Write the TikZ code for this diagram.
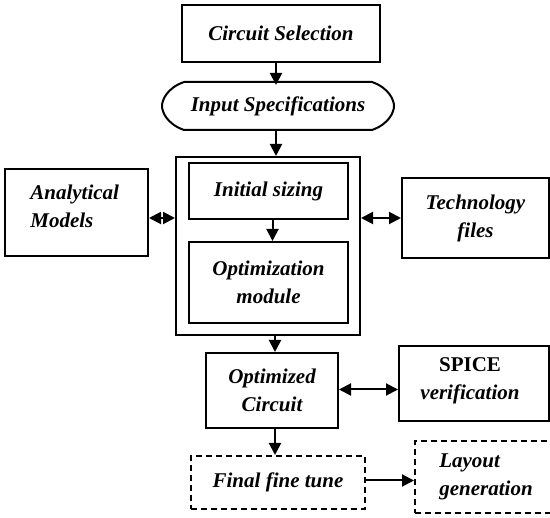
\documentclass[tikz,border=0pt]{standalone}
\usepackage{fontspec}
\setmainfont{Liberation Serif}
\usetikzlibrary{arrows.meta,calc}
\begin{document}
\begin{tikzpicture}[x=1pt,y=-1pt,
  line width=2pt,
  lbl/.style={font=\fontsize{21}{28}\selectfont\bfseries\itshape},
  box/.style={draw, lbl, inner sep=0pt, align=center},
  dbox/.style={box, dash pattern=on 6pt off 4pt},
  arr/.style={-{Triangle[length=12pt,width=12pt]}},
  dbl/.style={{Triangle[length=12pt,width=12pt]}-{Triangle[length=12pt,width=12pt]}}
]
\clip (0,0) rectangle (550,518);
\fill[white] (0,0) rectangle (550,518);

% top of the flow
\node[box, minimum width=198pt, minimum height=57pt] (sel) at (281,33.5) {Circuit Selection};
\node[lbl, minimum width=230pt, minimum height=46pt, inner sep=0pt] (spec) at (278,106) {Input Specifications};
\draw (spec.north west) ++(22,0) -- ($(spec.north east)+(-22,0)$)
  .. controls ($(spec.east)+(-5,-18)$) and ($(spec.east)+(0,-6)$) .. (spec.east)
  .. controls ($(spec.east)+(0,6)$) and ($(spec.east)+(-5,18)$) .. ($(spec.south east)+(-22,0)$)
  -- ($(spec.south west)+(22,0)$)
  .. controls ($(spec.west)+(5,18)$) and ($(spec.west)+(0,6)$) .. (spec.west)
  .. controls ($(spec.west)+(0,-6)$) and ($(spec.west)+(5,-18)$) .. ($(spec.north west)+(22,0)$);

% sizing and optimisation block
\node[draw, minimum width=184pt, minimum height=178pt] (outer) at (268,246) {};
\node[box, minimum width=159pt, minimum height=56pt] (init) at (268.5,191) {Initial sizing};
\node[box, minimum width=159pt, minimum height=81pt] (optm) at (268.5,282.5) {Optimization\\module};

% side inputs
\node[draw, minimum width=143pt, minimum height=87pt] (anal) at (76.5,212.5) {};
\node[lbl, align=left, anchor=west] at (26,206) {Analytical\\Models};
\node[box, minimum width=147pt, minimum height=80pt] (tech) at (475.5,218) {Technology\\files};

% result and checks
\node[box, minimum width=132pt, minimum height=75pt] (optc) at (272,390.5) {Optimized\\Circuit};
\node[draw, minimum width=150pt, minimum height=75pt] (spice) at (474,383.5) {};
\node[lbl, align=center] at (470,381) {\upshape SPICE\\verification};
\node[dbox, minimum width=174pt, minimum height=53pt] (fine) at (278,482.5) {Final fine tune};
\node[draw, dash pattern=on 6pt off 4pt, minimum width=150pt, minimum height=72pt] (lay) at (490,477) {};
\node[lbl, align=left, anchor=west] at (435,477) {Layout\\generation};

% connectors
\draw[arr] (sel.south -| spec.north) ++(-2,0) -- ++(0,22);
\draw[arr] ($(spec.south)+(-2,0)$) -- ($(spec.south |- outer.north)+(-2,0)$);
\draw[arr] ($(init.south)+(4,0)$) -- ($(optm.north)+(4,0)$);
\draw[dbl] (anal.east |- tech.west) -- (outer.west |- tech.west);
\draw[dbl] (outer.east |- tech.west) -- (tech.west);
\draw[arr] ($(optc.north |- outer.south)+(3,0)$) -- ($(optc.north)+(3,0)$);
\draw[dbl] ($(optc.east)+(0,-1)$) -- ($(optc.east -| spice.west)+(0,-1)$);
\draw[arr] ($(optc.south)+(3,0)$) -- ($(optc.south |- fine.north)+(3,0)$);
\draw[arr] ($(fine.east)+(0,-2)$) -- ($(fine.east -| lay.west)+(0,-2)$);
\end{tikzpicture}
\end{document}
